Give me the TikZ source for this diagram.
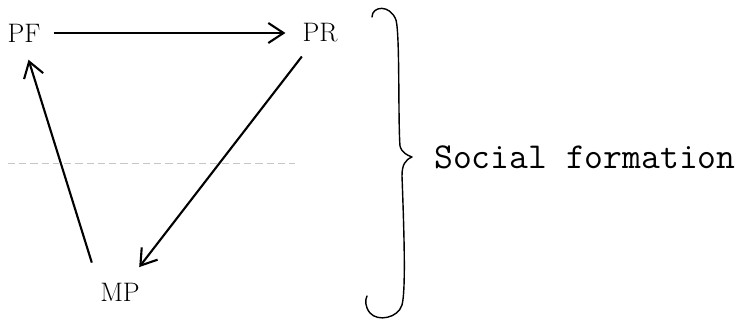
\documentclass[tikz,border=0pt]{standalone}
\usepackage{tikz}
\usetikzlibrary{arrows.meta,positioning}

\begin{document}
\begin{tikzpicture}[
  x=0.025cm, y=-0.025cm,
  term/.style={font=\fontsize{19}{22}\selectfont, inner sep=2pt},
  arrow/.style={-{Straight Barb[length=0.38cm, width=0.5cm]}, line width=1.5pt},
  brace/.style={line width=1pt, line join=round, line cap=round},
  level/.style={gray!45, line width=0.6pt, dash pattern=on 5pt off 3pt}
]
  \useasboundingbox (0,0) rectangle (743,321);
  \node[term] (pf) at (24,33) {PF};
  \node[term] (pr) at (320,33) {PR};
  \node[term] (mp) at (120,292) {MP};
  \draw[arrow, shorten <=0.25cm, shorten >=0.35cm] (pf) -- (pr);
  \draw[arrow, shorten <=0.35cm, shorten >=0.4cm] (pr) -- (mp);
  \draw[arrow, shorten <=0.45cm, shorten >=0.38cm] (mp.north west) -- (pf.south);
  % dashed level line
  \draw[level] (8,163) -- (295,163);
  % hand drawn brace
  \coordinate (tip) at (412,157);
  \draw[brace] (372,17) .. controls (372,6) and (390,4) .. (396,20)
    .. controls (400,35) and (398,120) .. (400,146)
    .. controls (402,153) and (407,155) .. (tip)
    .. controls (405,160) and (402,165) .. (402,176)
    .. controls (404,230) and (406,290) .. (402,305)
    .. controls (398,318) and (378,322) .. (370,313)
    .. controls (365,307) and (365,300) .. (367,296);
  \node[right=0.55cm of tip, inner sep=0, font=\fontsize{26}{30}\selectfont\ttfamily] (sf) {Social formation};
\end{tikzpicture}
\end{document}
